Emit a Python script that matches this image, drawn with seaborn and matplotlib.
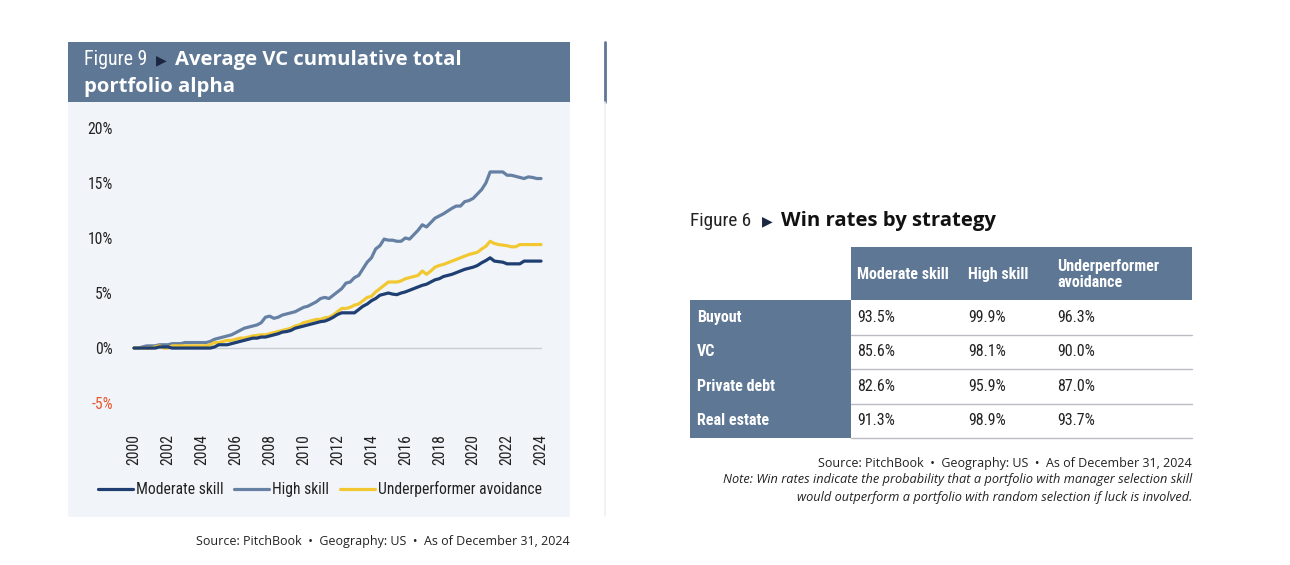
import numpy as np
import pandas as pd
import matplotlib
matplotlib.use("Agg")
import matplotlib.pyplot as plt
from matplotlib import font_manager
from matplotlib.patches import Rectangle
from matplotlib.lines import Line2D
import seaborn as sns

# ---------------- data ----------------
quarters = [2000 + 0.25 * i for i in range(97)]

moderate_skill = [
    0.0, 0.0, 0.0, 0.0,   0.0, 0.0, 0.1, 0.1,   0.1, 0.0, 0.0, 0.0,
    0.0, 0.0, 0.0, 0.0,   0.0, 0.0, 0.0, 0.1,   0.3, 0.3, 0.3, 0.4,
    0.5, 0.6, 0.7, 0.8,   0.9, 0.9, 1.0, 1.0,   1.1, 1.2, 1.3, 1.45,
    1.5, 1.6, 1.8, 1.9,   2.0, 2.1, 2.2, 2.3,   2.4, 2.45, 2.6, 2.8,
    3.05, 3.2, 3.2, 3.2,  3.2, 3.5, 3.8, 4.0,   4.3, 4.5, 4.8, 4.9,
    5.0, 4.9, 4.85, 5.0,  5.1, 5.25, 5.4, 5.55, 5.7, 5.8, 6.0, 6.2,
    6.3, 6.5, 6.6, 6.7,   6.85, 7.0, 7.15, 7.25, 7.35, 7.5, 7.75, 7.95,
    8.2, 7.9, 7.85, 7.8,  7.65, 7.65, 7.65, 7.65, 7.9, 7.9, 7.9, 7.9,
    7.9,
]
high_skill = [
    0.0, 0.0, 0.1, 0.2,   0.2, 0.2, 0.3, 0.3,   0.3, 0.4, 0.4, 0.4,
    0.5, 0.5, 0.5, 0.5,   0.5, 0.5, 0.6, 0.8,   0.9, 1.0, 1.1, 1.2,
    1.4, 1.6, 1.8, 1.9,   2.0, 2.1, 2.3, 2.8,   2.9, 2.7, 2.8, 3.0,
    3.1, 3.2, 3.3, 3.5,   3.7, 3.8, 4.0, 4.2,   4.5, 4.6, 4.5, 4.8,
    5.1, 5.4, 5.9, 6.0,   6.4, 6.6, 7.2, 7.8,   8.2, 9.0, 9.3, 9.9,
    9.8, 9.8, 9.7, 9.7,   10.0, 9.9, 10.3, 10.7, 11.2, 11.0, 11.4, 11.8,
    12.0, 12.2, 12.45, 12.7, 12.9, 12.9, 13.3, 13.4, 13.6, 14.0, 14.4, 15.0,
    16.0, 16.0, 16.0, 16.0, 15.7, 15.7, 15.6, 15.5, 15.4, 15.55, 15.5, 15.4,
    15.4,
]
underperformer_avoidance = [
    0.0, 0.0, 0.0, 0.0,   0.0, 0.1, 0.2, 0.0,   0.0, 0.2, 0.2, 0.2,
    0.2, 0.2, 0.2, 0.2,   0.2, 0.2, 0.3, 0.5,   0.5, 0.6, 0.7, 0.7,
    0.8, 0.9, 0.9, 1.0,   1.1, 1.15, 1.2, 1.2,  1.3, 1.4, 1.5, 1.6,
    1.7, 1.8, 2.0, 2.1,   2.3, 2.4, 2.5, 2.6,   2.6, 2.75, 2.8, 3.0,
    3.3, 3.6, 3.6, 3.7,   3.9, 4.0, 4.3, 4.6,   4.7, 5.1, 5.4, 5.7,
    6.0, 6.0, 6.0, 6.1,   6.3, 6.4, 6.5, 6.6,   7.0, 6.7, 7.0, 7.35,
    7.5, 7.6, 7.75, 7.9,  8.05, 8.2, 8.35, 8.5, 8.6, 8.7, 9.0, 9.25,
    9.7, 9.5, 9.4, 9.35,  9.3, 9.2, 9.2, 9.4,   9.4, 9.4, 9.4, 9.4,
    9.4,
]
series_names = ["Moderate skill", "High skill", "Underperformer avoidance"]
y_ticks = [-5, 0, 5, 10, 15, 20]
x_ticks = list(range(2000, 2025, 2))

strategies = ["Buyout", "VC", "Private debt", "Real estate"]
table_columns = ["Moderate skill", "High skill", "Underperformer\navoidance"]
win_moderate = ["93.5%", "85.6%", "82.6%", "91.3%"]
win_high = ["99.9%", "98.1%", "95.9%", "98.9%"]
win_under = ["96.3%", "90.0%", "87.0%", "93.7%"]

# ---------------- style ----------------
sns.set_theme(style="white")
avail = {f.name for f in font_manager.fontManager.ttflist}
NARROW = "Lato"
for cand in ["Liberation Sans Narrow", "Roboto Condensed", "Open Sans Condensed",
             "Noto Sans Condensed", "DejaVu Sans Condensed", "Lato"]:
    if cand in avail:
        NARROW = cand
        break
BOLD = "Open Sans"
plt.rcParams["font.family"] = [NARROW, "DejaVu Sans"]

NAVY = "#1f3f73"
SLATE = "#6680a3"
GOLD = "#f2c832"
BAND = "#5e7795"
PANEL = "#f1f5f9"
DARK = "#1b2740"
TXT = "#222222"

W, H = 1290, 565
fig = plt.figure(figsize=(W / 100, H / 100), dpi=100)
fig.patch.set_facecolor("white")
renderer = fig.canvas.get_renderer()

# scale factor so that the narrow font matches reference text widths
_probe = fig.text(0, 0, "Moderate skill", fontsize=12.5, family=[NARROW, "DejaVu Sans"])
_w = _probe.get_window_extent(renderer).width
_probe.remove()
S = min(1.0, 82.0 / _w)
NS = 12.5 * S          # base narrow size
TS = NS * 1.1          # table size


def fx(x):
    return x / W


def fy(y):
    return 1 - y / H


def rect(x0, y0, x1, y1, color, z=-5):
    fig.patches.append(Rectangle((fx(x0), fy(y1)), fx(x1) - fx(x0), fy(y0) - fy(y1),
                                 transform=fig.transFigure, color=color, zorder=z, lw=0))


def fit_text(x, y, s, target_w, **kw):
    t = fig.text(x, y, s, **kw)
    w = t.get_window_extent(renderer).width
    if w > 0:
        t.set_fontsize(t.get_fontsize() * target_w / w)
    return t


# left panel background + title band
rect(68, 42, 570, 517, PANEL)
rect(68, 42, 570, 102, BAND, z=-4)
fit_text(fx(84), fy(60), "Figure 9", 63, color="white", fontsize=15.5, va="center", ha="left",
         family=[NARROW, "DejaVu Sans"])
fig.text(fx(156), fy(60), "\u25B6", color=DARK, fontsize=10, va="center", ha="left",
         family="DejaVu Sans")
fig.text(fx(175), fy(60), "Average VC cumulative total", color="white", fontsize=14.6,
         fontweight="bold", va="center", ha="left", family=BOLD)
fig.text(fx(84), fy(87), "portfolio alpha", color="white", fontsize=14.6,
         fontweight="bold", va="center", ha="left", family=BOLD)

# separator line of neighbouring panel
fig.add_artist(Line2D([fx(605), fx(605)], [fy(42), fy(102)], color=BAND, lw=2,
                      transform=fig.transFigure))
fig.add_artist(Line2D([fx(605), fx(605)], [fy(102), fy(516)], color="#eef1f4", lw=1.2,
                      transform=fig.transFigure))

# ---------------- line chart ----------------
ax_left_px, ax_right_px = 125.5, 549.5
ax_top_px, ax_bot_px = 118, 413
ax = fig.add_axes([fx(ax_left_px), fy(ax_bot_px), fx(ax_right_px) - fx(ax_left_px),
                   fy(ax_top_px) - fy(ax_bot_px)])
ax.set_facecolor("none")
ax.set_zorder(2)

df = pd.DataFrame({
    "year": quarters * 3,
    "value": moderate_skill + high_skill + underperformer_avoidance,
    "series": [series_names[0]] * len(quarters) + [series_names[1]] * len(quarters)
              + [series_names[2]] * len(quarters),
})
palette = {series_names[0]: NAVY, series_names[1]: SLATE, series_names[2]: GOLD}
ax.plot([quarters[0], quarters[-1]], [0, 0], color="#c9ccd1", lw=1.0, zorder=1)
sns.lineplot(data=df, x="year", y="value", hue="series",
             hue_order=[series_names[1], series_names[2], series_names[0]],
             palette=palette, lw=2.3, ax=ax, legend=False, zorder=3)

ax.set_xlim(1999.5, 2024.5)
ax.set_ylim(-5.9, 20.9)
ax.set_xticks(x_ticks)
ax.set_xticklabels([str(t) for t in x_ticks], rotation=90, fontsize=NS * 1.08, color=TXT)
ax.set_yticks(y_ticks)
ax.set_yticklabels([f"{t}%" for t in y_ticks], fontsize=NS * 1.08, color=TXT)
for lab in ax.get_yticklabels():
    if lab.get_text().startswith("-"):
        lab.set_color("#e8542c")
ax.tick_params(axis="x", length=0, pad=15)
ax.tick_params(axis="y", length=0, pad=9)
for s in ax.spines.values():
    s.set_visible(False)
ax.set_xlabel("")
ax.set_ylabel("")

handles = [Line2D([0], [0], color=palette[n], lw=2.3) for n in series_names]
leg_fs = NS * 1.08
leg_px = leg_fs * 100 / 72
fig.legend(handles, series_names, loc="center", bbox_to_anchor=(fx(320), fy(489)),
           ncol=3, frameon=False, fontsize=leg_fs, handlelength=35 / leg_px,
           handletextpad=3 / leg_px, columnspacing=11 / leg_px, labelcolor=TXT,
           borderpad=0, borderaxespad=0)

fig.text(fx(570), fy(542), "Source: PitchBook  \u2022  Geography: US  \u2022  As of December 31, 2024",
         ha="right", va="center", fontsize=9.0, color=TXT, family=BOLD)

# ---------------- table ----------------
fit_text(fx(690), fy(221), "Figure 6", 61, color=TXT, fontsize=15.5, va="center", ha="left",
         family=[NARROW, "DejaVu Sans"])
fig.text(fx(762), fy(221), "\u25B6", color=DARK, fontsize=10, va="center", ha="left",
         family="DejaVu Sans")
fig.text(fx(781), fy(221), "Win rates by strategy", color="#111111", fontsize=14.6,
         fontweight="bold", va="center", ha="left", family=BOLD)

tx0, tx_split, tx1 = 690, 851, 1192
head_top, head_bot = 247, 300
row_h = 34.5
rect(tx_split, head_top, tx1, head_bot, BAND)
rect(tx0, head_bot, tx_split, head_bot + row_h * len(strategies), BAND)

col_x = [857, 968, 1057]
for j, name in enumerate(table_columns):
    fig.text(fx(col_x[j]), fy((head_top + head_bot) / 2 + 1), name, color="white",
             fontsize=TS, fontweight="bold", va="center", ha="left",
             family=[NARROW, "DejaVu Sans"], linespacing=1.15)

values = [win_moderate, win_high, win_under]
for i, strat in enumerate(strategies):
    yc = head_bot + row_h * (i + 0.5)
    fig.text(fx(697), fy(yc), strat, color="white", fontsize=TS, fontweight="bold",
             va="center", ha="left", family=[NARROW, "DejaVu Sans"])
    for j in range(3):
        fig.text(fx(col_x[j]), fy(yc), values[j][i], color=TXT, fontsize=TS,
                 va="center", ha="left", family=[NARROW, "DejaVu Sans"])
    yl = head_bot + row_h * (i + 1)
    fig.add_artist(Line2D([fx(tx_split), fx(tx1)], [fy(yl), fy(yl)], color="#b9bcc2",
                          lw=1.0, transform=fig.transFigure))

fig.text(fx(1192), fy(463), "Source: PitchBook  \u2022  Geography: US  \u2022  As of December 31, 2024",
         ha="right", va="center", fontsize=9.0, color=TXT, family=BOLD)
fig.text(fx(1192), fy(480),
         "Note: Win rates indicate the probability that a portfolio with manager selection skill",
         ha="right", va="center", fontsize=9.2, color=TXT, style="italic", family=BOLD)
fig.text(fx(1192), fy(497),
         "would outperform a portfolio with random selection if luck is involved.",
         ha="right", va="center", fontsize=9.2, color=TXT, style="italic", family=BOLD)

fig.savefig("out.png", dpi=100, facecolor="white")
